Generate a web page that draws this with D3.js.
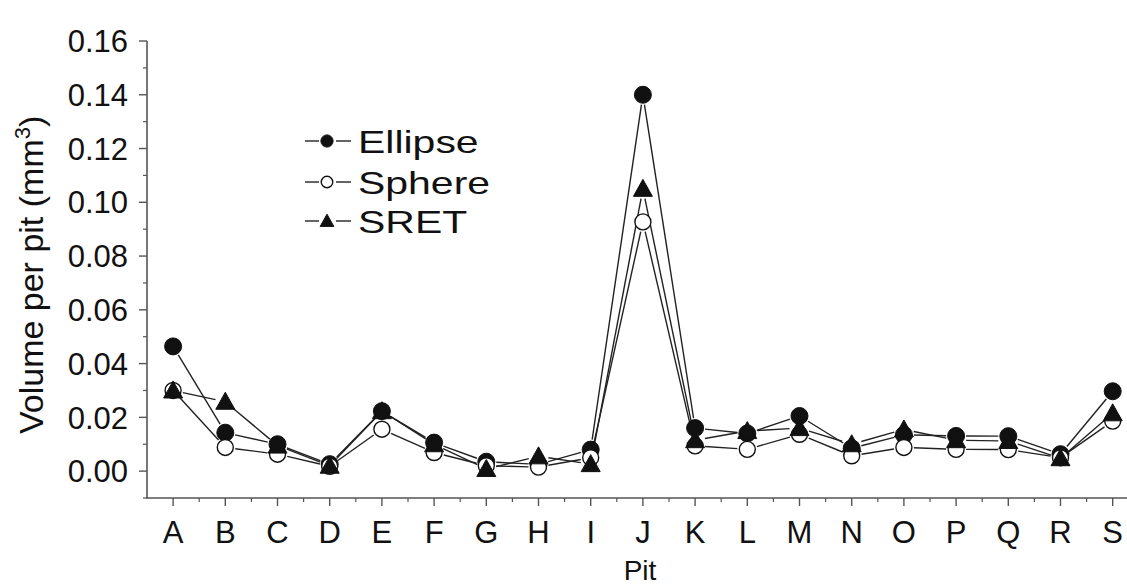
<!DOCTYPE html>
<html>
<head>
<meta charset="utf-8">
<script src="https://cdn.jsdelivr.net/npm/d3@7"></script>
<style>
  html, body { margin: 0; padding: 0; background: #fff; }
  #vis { width: 1127px; height: 588px; overflow: hidden; }
</style>
</head>
<body>
<div id="vis"></div>
<script>
// ---- Data ----
const pits = ["A","B","C","D","E","F","G","H","I","J","K","L","M","N","O","P","Q","R","S"];
const ellipse = [0.0464, 0.0143, 0.0100, 0.0026, 0.0223, 0.0106, 0.0035, 0.0025, 0.0080, 0.1400,
                 0.0160, 0.0140, 0.0205, 0.0085, 0.0135, 0.0131, 0.0130, 0.0063, 0.0297];
const sphere  = [0.0300, 0.0088, 0.0063, 0.0018, 0.0156, 0.0069, 0.0020, 0.0015, 0.0050, 0.0927,
                 0.0094, 0.0081, 0.0137, 0.0057, 0.0088, 0.0081, 0.0080, 0.0050, 0.0186];
const sret    = [0.0300, 0.0258, 0.0095, 0.0020, 0.0223, 0.0100, 0.0008, 0.0055, 0.0026, 0.1050,
                 0.0115, 0.0149, 0.0160, 0.0100, 0.0155, 0.0115, 0.0112, 0.0048, 0.0215];
const yTicks = [0.00, 0.02, 0.04, 0.06, 0.08, 0.10, 0.12, 0.14, 0.16];
const seriesNames = ["Ellipse", "Sphere", "SRET"];

const W = 1127, H = 588;
const FONT = "'Liberation Sans', Arial, sans-serif";
const INK = "#111";

const svg = d3.select("#vis").append("svg")
  .attr("width", W).attr("height", H)
  .style("display", "block");

// scales
const x = d3.scaleLinear().domain([0.5, 19.5]).range([147, 147 + 19 * 52.2]);
const y = d3.scaleLinear().domain([-0.01, 0.16]).range([498, 41]);

// ---- Axes ----
const axisCol = "#555";
svg.append("line")
  .attr("x1", x(0.5)).attr("x2", x(0.5))
  .attr("y1", y(0.16)).attr("y2", y(-0.01))
  .attr("stroke", axisCol).attr("stroke-width", 1.6);
svg.append("line")
  .attr("x1", x(0.5) - 1).attr("x2", W)
  .attr("y1", y(-0.01)).attr("y2", y(-0.01))
  .attr("stroke", axisCol).attr("stroke-width", 1.6);

// y ticks (major + minor)
const yMinor = d3.range(-0.01, 0.165, 0.01).filter(v => !yTicks.some(t => Math.abs(t - v) < 1e-6));
svg.append("g").selectAll("line.maj")
  .data(yTicks).join("line")
  .attr("x1", x(0.5) - 8).attr("x2", x(0.5))
  .attr("y1", d => y(d)).attr("y2", d => y(d))
  .attr("stroke", axisCol).attr("stroke-width", 1.4);
svg.append("g").selectAll("line.min")
  .data(yMinor).join("line")
  .attr("x1", x(0.5) - 4).attr("x2", x(0.5))
  .attr("y1", d => y(d)).attr("y2", d => y(d))
  .attr("stroke", axisCol).attr("stroke-width", 1.2);
svg.append("g").selectAll("text")
  .data(yTicks).join("text")
  .attr("x", x(0.5) - 19).attr("y", d => y(d))
  .attr("dy", "0.36em")
  .attr("text-anchor", "end")
  .style("font", `31px ${FONT}`)
  .attr("fill", INK)
  .text(d => d3.format(".2f")(d));

// x ticks
const xMinor = d3.range(1.5, 19.5, 1);
svg.append("g").selectAll("line")
  .data(pits).join("line")
  .attr("x1", (d, i) => x(i + 1)).attr("x2", (d, i) => x(i + 1))
  .attr("y1", y(-0.01)).attr("y2", y(-0.01) + 8)
  .attr("stroke", axisCol).attr("stroke-width", 1.4);
svg.append("g").selectAll("line")
  .data(xMinor).join("line")
  .attr("x1", d => x(d)).attr("x2", d => x(d))
  .attr("y1", y(-0.01)).attr("y2", y(-0.01) + 4)
  .attr("stroke", axisCol).attr("stroke-width", 1.2);
svg.append("g").selectAll("text")
  .data(pits).join("text")
  .attr("x", (d, i) => x(i + 1)).attr("y", y(-0.01) + 45)
  .attr("text-anchor", "middle")
  .style("font", `31px ${FONT}`)
  .attr("fill", INK)
  .text(d => d);

// axis titles
svg.append("text")
  .attr("x", 640).attr("y", 580)
  .attr("text-anchor", "middle")
  .style("font", `28px ${FONT}`)
  .attr("fill", INK)
  .text("Pit");

const yt = svg.append("text")
  .attr("transform", `translate(43, ${y(0.073)}) rotate(-90)`)
  .attr("text-anchor", "middle")
  .style("font", `34px ${FONT}`)
  .attr("fill", INK);
yt.append("tspan").text("Volume per pit (mm");
yt.append("tspan").attr("dy", -13).style("font-size", "22px").text("3");
yt.append("tspan").attr("dy", 13).text(")");

// ---- Markers ----
function marker(g, kind, cx, cy, s) {
  if (kind === "Ellipse") {
    g.append("circle").attr("cx", cx).attr("cy", cy).attr("r", 8.5 * s)
      .attr("fill", INK).attr("stroke", INK).attr("stroke-width", 1);
  } else if (kind === "Sphere") {
    g.append("circle").attr("cx", cx).attr("cy", cy).attr("r", 8 * s)
      .attr("fill", "#fff").attr("stroke", INK).attr("stroke-width", 1.4);
  } else {
    const h = 9.5 * s, t = 9.5 * s, b = 7.5 * s;
    g.append("path")
      .attr("d", `M${cx},${cy - t}L${cx + h},${cy + b}L${cx - h},${cy + b}Z`)
      .attr("fill", INK).attr("stroke", INK).attr("stroke-width", 1);
  }
}

// lines with small gaps near symbols
const GAP = 10;
const plot = svg.append("g");
const allSeries = [ellipse, sphere, sret];

allSeries.forEach((vals) => {
  const pts = vals.map((v, i) => [x(i + 1), y(v)]);
  const segs = d3.pairs(pts).map(([a, b]) => {
    const dx = b[0] - a[0], dy = b[1] - a[1];
    const L = Math.hypot(dx, dy);
    const ux = dx / L, uy = dy / L;
    return [[a[0] + ux * GAP, a[1] + uy * GAP], [b[0] - ux * GAP, b[1] - uy * GAP]];
  });
  plot.append("g").selectAll("line")
    .data(segs).join("line")
    .attr("x1", d => d[0][0]).attr("y1", d => d[0][1])
    .attr("x2", d => d[1][0]).attr("y2", d => d[1][1])
    .attr("stroke", "#222").attr("stroke-width", 1.4);
});

allSeries.forEach((vals, si) => {
  const g = plot.append("g");
  vals.forEach((v, i) => marker(g, seriesNames[si], x(i + 1), y(v), 1));
});

// ---- Legend ----
const legend = svg.append("g");
const legY = [141, 182, 221];
seriesNames.forEach((name, i) => {
  const ly = legY[i];
  legend.append("line").attr("x1", 305).attr("x2", 319).attr("y1", ly).attr("y2", ly)
    .attr("stroke", "#222").attr("stroke-width", 1.4);
  legend.append("line").attr("x1", 336).attr("x2", 351).attr("y1", ly).attr("y2", ly)
    .attr("stroke", "#222").attr("stroke-width", 1.4);
  marker(legend, name, 327, ly, 0.72);
  legend.append("text")
    .attr("transform", `translate(358, ${ly}) scale(1.28, 1)`)
    .attr("dy", "0.36em")
    .style("font", `32px ${FONT}`)
    .attr("fill", INK)
    .text(name);
});
</script>
</body>
</html>
